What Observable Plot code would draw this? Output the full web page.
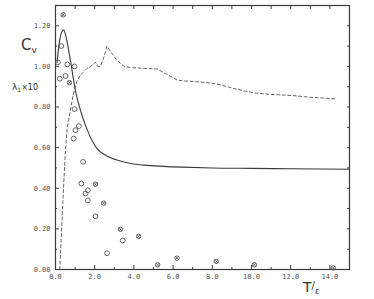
<!DOCTYPE html>
<html><head><meta charset="utf-8">
<script src="https://cdn.jsdelivr.net/npm/d3@7"></script>
<script src="https://cdn.jsdelivr.net/npm/@observablehq/plot@0.6"></script>
<style>
html,body{margin:0;padding:0;background:#fff;}
#chart{position:relative;width:374px;height:299px;}
</style>
</head><body><div id="chart"></div>
<script>
// Cv (solid curve)
const cvT   = [0.08, 0.2, 0.3, 0.42, 0.55, 0.76, 1.02, 1.27, 1.61, 2.12, 2.6, 3.1, 3.82, 4.5, 5.5, 6.5, 8.0, 10.0, 12.0, 15.0];
const cvVal = [1.02, 1.12, 1.165, 1.18, 1.14, 1.03, 0.88, 0.785, 0.69, 0.595, 0.56, 0.54, 0.522, 0.514, 0.508, 0.504, 0.50, 0.498, 0.496, 0.494];
// lambda1 x 10 (dashed curve)
const lamT   = [0.22, 0.34, 0.42, 0.51, 0.6, 0.76, 0.9, 1.1, 1.3, 1.6, 1.8, 2.04, 2.15, 2.29, 2.45, 2.63, 2.9, 3.14, 3.5, 3.82, 4.5, 5.18, 5.6, 6.0, 6.2, 6.6, 7.2, 8.0, 8.4, 9.07, 9.6, 10.27, 11.0, 11.46, 12.3, 12.98, 13.6, 14.26];
const lamVal = [0.0, 0.26, 0.42, 0.59, 0.70, 0.785, 0.86, 0.93, 0.96, 0.99, 1.0, 1.02, 1.0, 1.0, 1.04, 1.10, 1.06, 1.03, 1.0, 0.995, 0.99, 0.988, 0.965, 0.945, 0.933, 0.928, 0.925, 0.917, 0.91, 0.892, 0.88, 0.868, 0.862, 0.86, 0.855, 0.848, 0.845, 0.84];
// open circles
const circT   = [0.30, 0.12, 0.60, 0.97, 0.22, 0.51, 0.97, 1.02, 1.19, 0.93, 1.41, 1.32, 1.53, 1.65, 1.65, 2.04, 3.43, 2.63];
const circVal = [1.10, 1.02, 1.01, 1.00, 0.94, 0.953, 0.79, 0.686, 0.706, 0.645, 0.53, 0.423, 0.374, 0.39, 0.34, 0.262, 0.143, 0.08];
// starred circles
const starT   = [0.39, 0.71, 2.04, 2.46, 3.31, 4.24, 5.21, 6.2, 8.2, 10.15, 14.17];
const starVal = [1.254, 0.92, 0.42, 0.327, 0.198, 0.163, 0.023, 0.056, 0.04, 0.023, 0.008];
// ticks
const xTicks = [0, 2, 4, 6, 8, 10, 12, 14];
const xTickLabels = ["0.0", "2.0", "4.0", "6.0", "8.0", "10.0", "12.0", "14.0"];
const xMinor = [1, 3, 5, 7, 9, 11, 13];
const yTicks = [0, 0.2, 0.4, 0.6, 0.8, 1.0, 1.2];
const yTickLabels = ["0.00", "0.20", "0.40", "0.60", "0.80", "1.00", "1.20"];
const yMinor = [0.1, 0.3, 0.5, 0.7, 0.9, 1.1];

const cv = cvT.map((t, i) => ({t, v: cvVal[i]}));
const lam = lamT.map((t, i) => ({t, v: lamVal[i]}));
const circ = circT.map((t, i) => ({t, v: circVal[i]}));
const star = starT.map((t, i) => ({t, v: starVal[i]}));

const ink = "#3a3a3a";
const plot = Plot.plot({
  width: 374, height: 299,
  marginLeft: 55, marginRight: 25, marginTop: 5, marginBottom: 30,
  style: {fontFamily: "DejaVu Sans Mono", fontSize: "7px", color: "#555", background: "#fff"},
  x: {domain: [0, 15], label: null},
  y: {domain: [0, 1.3], label: null},
  marks: [
    Plot.frame({stroke: ink, strokeWidth: 1.2}),
    Plot.axisX(xTicks, {anchor: "bottom", tickSize: -4, tickPadding: 9, tickFormat: (d, i) => xTickLabels[i], stroke: ink}),
    Plot.axisX(xMinor, {anchor: "bottom", tickSize: -2, text: null, stroke: ink}),
    Plot.axisX(d3.range(0, 16, 1), {anchor: "top", tickSize: -3, text: null, stroke: ink}),
    Plot.axisY(yTicks, {anchor: "left", tickSize: -4, tickPadding: 9, tickFormat: (d, i) => yTickLabels[i], stroke: ink}),
    Plot.axisY(yMinor, {anchor: "left", tickSize: -2, text: null, stroke: ink}),
    Plot.axisY(d3.range(0, 1.31, 0.1), {anchor: "right", tickSize: -3, text: null, stroke: ink}),
    Plot.line(cv, {x: "t", y: "v", stroke: ink, strokeWidth: 1.1, curve: "monotone-x"}),
    Plot.line(lam, {x: "t", y: "v", stroke: "#555", strokeWidth: 0.9, strokeDasharray: "3,2.5", curve: "linear"}),
    Plot.dot(circ, {x: "t", y: "v", r: 2.4, stroke: "#555", strokeWidth: 0.9, fill: "none"}),
    Plot.dot(star, {x: "t", y: "v", r: 2.2, stroke: "#555", strokeWidth: 0.9, fill: "none"}),
    Plot.dot(star, {x: "t", y: "v", r: 1.6, symbol: "times", stroke: "#555", strokeWidth: 0.8})
  ]
});
document.getElementById("chart").appendChild(plot);

const svg = d3.select(plot);
const lab = svg.append("g").attr("fill", "#333").attr("font-family", "DejaVu Sans").attr("text-anchor", "start");
const cvLab = lab.append("text").attr("x", 21).attr("y", 50).attr("font-size", 15);
cvLab.append("tspan").text("C");
cvLab.append("tspan").attr("font-size", 9).attr("dy", 3).text("v");
const lamLab = lab.append("text").attr("x", 12).attr("y", 90).attr("font-size", 9);
lamLab.append("tspan").text("λ");
lamLab.append("tspan").attr("font-size", 6).attr("dy", 2).text("1");
lamLab.append("tspan").attr("font-size", 8).attr("dy", -2).text("×10");
const tLab = lab.append("text").attr("x", 303).attr("y", 292).attr("font-size", 14);
tLab.append("tspan").text("T");
tLab.append("tspan").attr("font-size", 10).attr("dy", -3).text("/");
tLab.append("tspan").attr("font-size", 8).attr("dy", 5).text("ε");
</script>
</body></html>
